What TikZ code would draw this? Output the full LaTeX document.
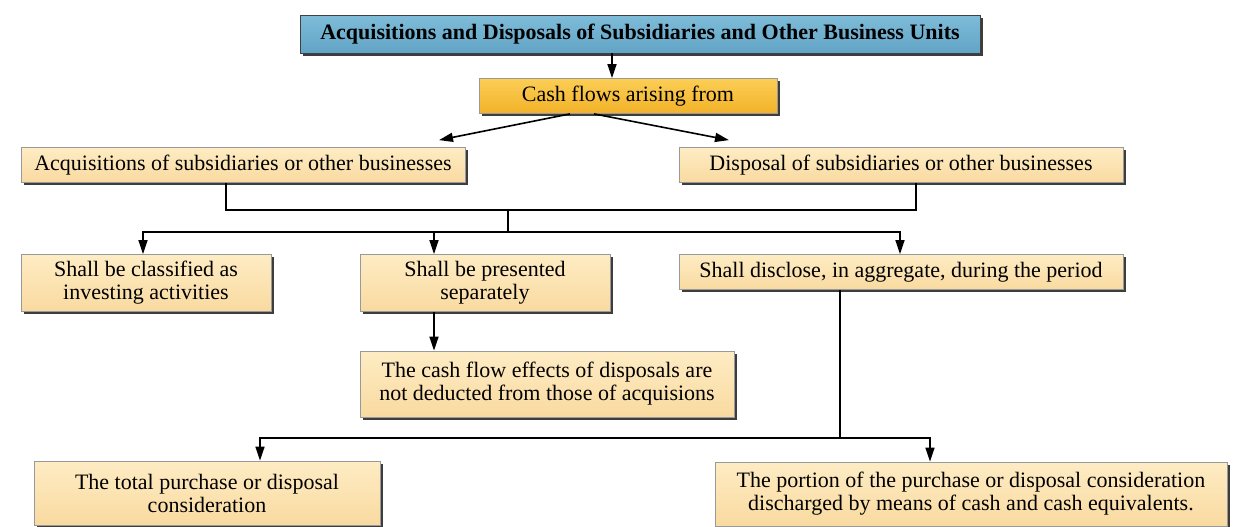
\documentclass[tikz,border=0pt]{standalone}
\usepackage{fontspec}
\setmainfont{Liberation Serif}
\usepackage{xcolor}
\usepackage{tikz}
\usetikzlibrary{arrows.meta,shadows}

\definecolor{tantop}{RGB}{254,236,196}
\definecolor{tanbot}{RGB}{249,218,160}
\definecolor{bluetop}{RGB}{126,188,216}
\definecolor{bluebot}{RGB}{98,164,198}
\definecolor{goldtop}{RGB}{252,206,86}
\definecolor{goldbot}{RGB}{242,178,40}

\begin{document}
\begin{tikzpicture}[x=0.5pt,y=-0.5pt,
    box/.style={rectangle, draw=black!40, top color=tantop, bottom color=tanbot,
        drop shadow={shadow xshift=1.3pt, shadow yshift=-1.3pt, fill=black!80, opacity=0.95},
        align=center, inner sep=2pt, font=\fontsize{11}{11.5}\selectfont},
    headbox/.style={box, top color=bluetop, bottom color=bluebot, draw=black!75,
        font=\fontsize{11}{11.5}\selectfont\bfseries},
    cashbox/.style={box, top color=goldtop, bottom color=goldbot},
    link/.style={line width=0.8pt},
    arr/.style={link, -{Triangle[length=7pt,width=4.5pt]}}]
            \useasboundingbox (0,0) rectangle (1239,526);

            % Nodes
            \node[headbox, minimum width=340pt, minimum height=19pt] (head) at (640,34) {Acquisitions and Disposals of Subsidiaries and Other Business Units};
            \node[cashbox, minimum width=149pt, minimum height=17.5pt] (cash) at (628,96) {Cash flows arising from};
            \node[box, minimum width=222pt, minimum height=17.5pt] (acq) at (243,165) {Acquisitions of subsidiaries or other businesses};
            \node[box, minimum width=222pt, minimum height=17.5pt] (disp) at (901,165) {Disposal of subsidiaries or other businesses};
            \node[box, minimum width=125pt, minimum height=28.5pt] (invest) at (146,283) {Shall be classified as\\investing activities};
            \node[box, minimum width=125pt, minimum height=28.5pt] (apart) at (485,283) {Shall be presented\\separately};
            \node[box, minimum width=222pt, minimum height=17.5pt] (disclose) at (901,272) {Shall disclose, in aggregate, during the period};
            \node[box, minimum width=187pt, minimum height=33pt] (effects) at (547,384) {The cash flow effects of disposals are\\not deducted from those of acquisions};
            \node[box, minimum width=173pt, minimum height=32pt] (total) at (207,493) {The total purchase or disposal\\consideration};
            \node[box, minimum width=256pt, minimum height=32pt] (portion) at (971,494) {The portion of the purchase or disposal consideration\\discharged by means of cash and cash equivalents.};

            \coordinate (merge) at (508,210);
            \coordinate (split) at (508,232);
            \coordinate (branch) at (840,438);

            % Edges
            \draw[arr] ([xshift=-14pt]head.south) -- ([xshift=-8pt]cash.north);
            \draw[arr] ([xshift=-29pt]cash.south) -- ([xshift=98pt,yshift=3.5pt]acq.north);
            \draw[arr] ([xshift=-17pt]cash.south) -- ([xshift=-86pt,yshift=3.5pt]disp.north);
            \draw[link] ([xshift=-8.5pt]acq.south) |- (merge) -| ([xshift=7.5pt]disp.south);
            \draw[link] (merge) -- (split);
            \draw[arr] (split) -| ([xshift=-1.5pt]invest.north);
            \draw[arr] (split) -| ([xshift=-25.5pt]apart.north);
            \draw[arr] (split) -| ([xshift=-0.5pt]disclose.north);
            \draw[arr] ([xshift=-25.5pt]apart.south) -- ([xshift=-56.5pt]effects.north);
            \draw[link] ([xshift=-30.5pt]disclose.south) -- (branch);
            \draw[arr] (branch) -| ([xshift=26.5pt]total.north);
            \draw[arr] (branch) -| ([xshift=-20.5pt]portion.north);
        \end{tikzpicture}
\end{document}
